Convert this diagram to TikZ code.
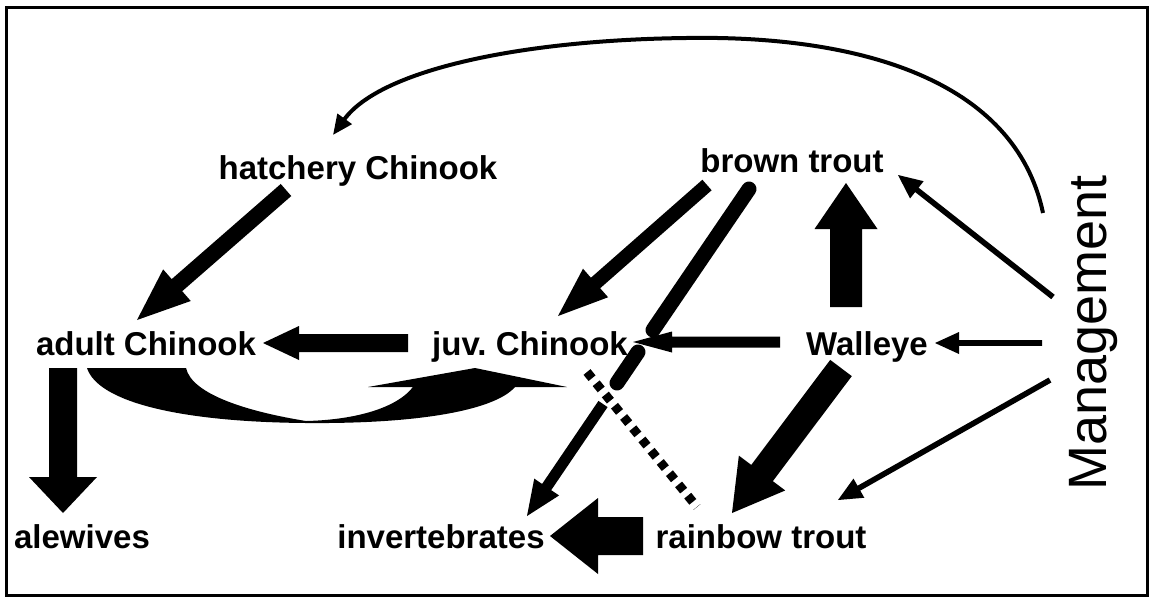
\documentclass[tikz,border=0pt]{standalone}
\usepackage{fontspec}
\setmainfont{Liberation Sans}
\usetikzlibrary{calc,arrows.meta}

% filled block arrow: tail, tip, half shaft width, half head width, head length
\newcommand\blockarrow[5]{%
  \coordinate (ba-c) at ($(#2)!#5!(#1)$);
  \fill ($(#1)!#3!90:(#2)$) -- ($(ba-c)!#3!-90:(#1)$) -- ($(ba-c)!#4!-90:(#1)$)
    -- (#2) -- ($(ba-c)!#4!90:(#1)$) -- ($(ba-c)!#3!90:(#1)$)
    -- ($(#1)!#3!-90:(#2)$) -- cycle;
}

\tikzset{
  lbl/.style={font=\fontsize{33}{40}\selectfont\bfseries, inner sep=0pt, anchor=base},
  mgmt/.style={font=\fontsize{54}{60}\selectfont, inner sep=0pt, anchor=base, rotate=90},
  roundbar/.style={line width=15pt, line cap=round},
  dotbar/.style={line width=9pt, dash pattern=on 8pt off 6.5pt},
}

\begin{document}
\begin{tikzpicture}[x=1pt, y=-1pt]
\useasboundingbox (0,0) rectangle (1149,598);
\draw[line width=3pt] (6,7) rectangle (1147,595);

% species
\node[lbl] (hatch)   at (358,179) {hatchery Chinook};
\node[lbl] (brown)   at (792,172) {brown trout};
\node[lbl] (adult)   at (146,355) {adult Chinook};
\node[lbl] (juv)     at (530,355) {juv.\ Chinook};
\node[lbl] (walleye) at (867,355) {Walleye};
\node[lbl] (alew)    at (82,548)  {alewives};
\node[lbl] (invert)  at (441,548) {invertebrates};
\node[lbl] (rainbow) at (761,548) {rainbow trout};
\node[mgmt] (mgmt)   at (1106,333) {Management};

% arrow end points
\coordinate (hatch-out)  at (286,190);  \coordinate (adult-in1) at (137,320);
\coordinate (brown-out1) at (707,185);  \coordinate (juv-in1)   at (558,316);
\coordinate (juv-out)    at (408,343);  \coordinate (adult-in2) at (263,343);
\coordinate (wall-out1)  at (780,342);  \coordinate (juv-in2)   at (633,342);
\coordinate (wall-out2)  at (846,307);  \coordinate (brown-in1) at (846,183);
\coordinate (wall-out3)  at (841,368);  \coordinate (rain-in1)  at (732,513);
\coordinate (rain-out)   at (643,536);  \coordinate (inv-in1)   at (550,536);
\coordinate (adult-out)  at (63,368);   \coordinate (alew-in)   at (63,513);
\coordinate (mg-out1)    at (1053,297); \coordinate (brown-in2) at (898,175);
\coordinate (mg-out2)    at (1042,343); \coordinate (wall-in)   at (935,343);
\coordinate (mg-out3)    at (1050,380); \coordinate (rain-in2)  at (838,500);

\blockarrow{hatch-out}{adult-in1}{8pt}{21pt}{53pt}
\blockarrow{brown-out1}{juv-in1}{7pt}{19pt}{50pt}
\blockarrow{juv-out}{adult-in2}{9pt}{17pt}{36pt}
\blockarrow{wall-out1}{juv-in2}{5.5pt}{10.5pt}{39pt}
\blockarrow{wall-out2}{brown-in1}{16pt}{31.5pt}{46pt}
\blockarrow{wall-out3}{rain-in1}{13.5pt}{29pt}{50pt}
\blockarrow{rain-out}{inv-in1}{19pt}{38pt}{48pt}
\blockarrow{adult-out}{alew-in}{14pt}{34pt}{36pt}
\blockarrow{mg-out1}{brown-in2}{2.8pt}{11pt}{24pt}
\blockarrow{mg-out2}{wall-in}{2.8pt}{11pt}{24pt}
\blockarrow{mg-out3}{rain-in2}{2.8pt}{11pt}{24pt}

% brown trout -> invertebrates, broken where other links cross it
\coordinate (brown-out2) at (749,189);
\coordinate (bi-1) at (653,330);
\coordinate (bi-2) at (638,352);
\coordinate (bi-3) at (617,383);
\coordinate (bi-4) at (603,404);
\coordinate (inv-in2) at (527,516);
\draw[roundbar] (brown-out2) -- (bi-1);
\draw[roundbar] (bi-2) -- (bi-3);
\blockarrow{bi-4}{inv-in2}{5.5pt}{15pt}{35pt}

% dotted link juv. Chinook -- rainbow trout
\coordinate (juv-dot) at (587,372);
\coordinate (rain-dot) at (697,507);
\draw[dotbar] (juv-dot) -- (rain-dot);

% curved arrow adult Chinook -> juv. Chinook
\fill (87,368) .. controls (98,402) and (180,422) .. (306,423)
  .. controls (420,424) and (495,410) .. (515,387)
  -- (567,387) -- (475,368) -- (368,387) -- (413,387)
  .. controls (395,410) and (350,420) .. (306,421)
  .. controls (250,412) and (192,395) .. (186,368) -- cycle;

% Management -> hatchery Chinook
\coordinate (mg-out4) at (1043,213);
\coordinate (hatch-in) at (333,135);
\draw[line width=4pt, -{Triangle[length=20pt,width=17pt]}]
  (mg-out4) .. controls (1015,80) and (860,35) .. (686,38)
  .. controls (520,40) and (380,70) .. (hatch-in);
\end{tikzpicture}
\end{document}
